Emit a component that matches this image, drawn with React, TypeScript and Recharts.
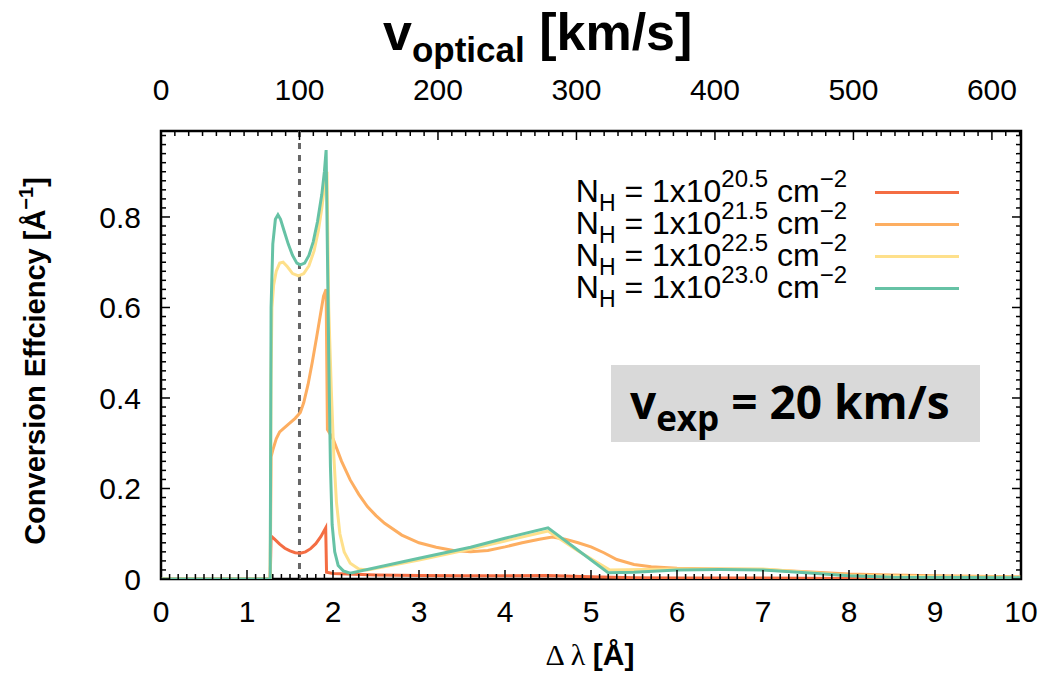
import React from 'react';
import { LineChart, Line, XAxis, YAxis, ReferenceLine, ReferenceArea, Legend } from 'recharts';

// Δλ [Å] vs conversion efficiency
const nh205: [number, number][] = [
  [0, 0], [1.27, 0], [1.28, 0.095], [1.32, 0.088], [1.38, 0.077], [1.44, 0.068], [1.5, 0.062],
  [1.56, 0.058], [1.62, 0.057], [1.68, 0.06], [1.74, 0.067], [1.8, 0.078], [1.86, 0.094],
  [1.915, 0.113], [1.925, 0.015], [2.0, 0.012], [2.5, 0.009], [3.0, 0.008], [3.5, 0.007],
  [4.0, 0.007], [4.5, 0.008], [5.0, 0.005], [5.5, 0.003], [6.0, 0.002], [7.0, 0.002], [8.0, 0.001], [10, 0.001],
];
const nh215: [number, number][] = [
  [0, 0], [1.27, 0], [1.28, 0.27], [1.3, 0.285], [1.34, 0.31], [1.38, 0.325], [1.44, 0.335],
  [1.5, 0.345], [1.56, 0.355], [1.62, 0.368], [1.66, 0.39], [1.71, 0.43], [1.76, 0.48],
  [1.81, 0.535], [1.85, 0.58], [1.89, 0.625], [1.92, 0.64], [1.935, 0.33], [2.0, 0.31],
  [2.1, 0.26], [2.2, 0.219], [2.3, 0.187], [2.4, 0.16], [2.5, 0.14], [2.6, 0.123], [2.8, 0.097],
  [3.0, 0.08], [3.2, 0.07], [3.4, 0.063], [3.6, 0.06], [3.8, 0.063], [4.0, 0.071], [4.2, 0.08],
  [4.4, 0.088], [4.55, 0.093], [4.7, 0.088], [4.85, 0.08], [5.0, 0.071], [5.15, 0.058],
  [5.3, 0.043], [5.5, 0.032], [5.7, 0.027], [6.0, 0.024], [6.5, 0.022], [7.0, 0.021],
  [7.5, 0.016], [8.0, 0.011], [8.5, 0.009], [9.0, 0.007], [10, 0.005],
];
const nh225: [number, number][] = [
  [0, 0], [1.27, 0], [1.28, 0.45], [1.29, 0.6], [1.31, 0.65], [1.34, 0.68], [1.38, 0.698],
  [1.42, 0.7], [1.47, 0.69], [1.53, 0.675], [1.6, 0.67], [1.66, 0.675], [1.72, 0.692],
  [1.78, 0.725], [1.83, 0.77], [1.87, 0.82], [1.91, 0.88], [1.93, 0.9], [1.95, 0.6],
  [1.98, 0.42], [2.01, 0.27], [2.04, 0.17], [2.08, 0.1], [2.13, 0.06], [2.2, 0.035],
  [2.3, 0.022], [2.4, 0.02], [3.0, 0.042], [3.6, 0.066], [4.0, 0.084], [4.5, 0.106],
  [4.85, 0.062], [5.22, 0.02], [6.0, 0.022], [7.0, 0.022], [7.5, 0.015], [8.0, 0.008],
  [9.0, 0.005], [10, 0.004],
];
const nh230: [number, number][] = [
  [0, 0], [1.27, 0], [1.28, 0.6], [1.3, 0.74], [1.33, 0.795], [1.36, 0.805], [1.39, 0.795],
  [1.43, 0.77], [1.48, 0.74], [1.53, 0.715], [1.58, 0.698], [1.62, 0.694], [1.67, 0.698],
  [1.72, 0.715], [1.77, 0.745], [1.82, 0.79], [1.87, 0.85], [1.9, 0.9], [1.92, 0.948],
  [1.93, 0.8], [1.95, 0.5], [1.97, 0.25], [1.99, 0.12], [2.02, 0.06], [2.06, 0.03],
  [2.12, 0.018], [2.2, 0.013], [3.0, 0.046], [3.6, 0.07], [4.0, 0.09], [4.5, 0.113],
  [5.2, 0.014], [5.5, 0.015], [6.0, 0.02], [6.5, 0.021], [7.0, 0.02], [7.5, 0.014],
  [8.0, 0.007], [8.5, 0.004], [10, 0.003],
];

const exponents = ['20.5', '21.5', '22.5', '23.0'];
const colors = ['#f46d43', '#fdae61', '#fee08b', '#66c2a5'];
const seriesData = [nh205, nh215, nh225, nh230];

const xLabels = [0, 1, 2, 3, 4, 5, 6, 7, 8, 9, 10];
const x2Labels = [0, 100, 200, 300, 400, 500, 600];
const yLabels = [0, 0.2, 0.4, 0.6, 0.8];
const vMarker = 100; // km/s

const FONT = "'Liberation Sans', Arial, Helvetica, sans-serif";

const xTicks = Array.from({ length: 101 }, (_, i) => i / 10);
const x2Ticks = Array.from({ length: 63 }, (_, i) => i * 10);
const yTicks = Array.from({ length: 50 }, (_, i) => Math.round(i * 2) / 100);

const isIn = (arr: number[], v: number) => arr.some(m => Math.abs(m - v) < 1e-6);

const BottomTick = ({ x, y, payload }: any) => {
  const major = isIn(xLabels, payload.value);
  return (
    <g>
      <line x1={x} x2={x} y1={y} y2={y - (major ? 9 : 5)} stroke="#000" strokeWidth={1.5} />
      {major && <text x={x} y={y + 43} textAnchor="middle" fontSize={30} fontFamily={FONT} fill="#000">{payload.value}</text>}
    </g>
  );
};

const TopTick = ({ x, y, payload }: any) => {
  const major = isIn(x2Labels, payload.value);
  return (
    <g>
      <line x1={x} x2={x} y1={y} y2={y + (major ? 9 : 5)} stroke="#000" strokeWidth={1.5} />
      {major && <text x={x} y={y - 31} textAnchor="middle" fontSize={30} fontFamily={FONT} fill="#000">{payload.value}</text>}
    </g>
  );
};

const LeftTick = ({ x, y, payload }: any) => {
  const major = isIn(yLabels, payload.value);
  return (
    <g>
      <line x1={x} x2={x + (major ? 9 : 5)} y1={y} y2={y} stroke="#000" strokeWidth={1.5} />
      {major && <text x={x - 20} y={y} dy="0.36em" textAnchor="end" fontSize={30} fontFamily={FONT} fill="#000">{payload.value}</text>}
    </g>
  );
};

const RightTick = ({ x, y, payload }: any) => {
  const major = isIn(yLabels, payload.value);
  return <line x1={x} x2={x - (major ? 9 : 5)} y1={y} y2={y} stroke="#000" strokeWidth={1.5} />;
};

const TitleLabel = () => (
  <text x={383} y={50} fontFamily={FONT} fontWeight="bold" fontSize={52} fill="#000">
    v<tspan fontSize={35} dy={12}>optical</tspan><tspan dy={-12}> [km/s]</tspan>
  </text>
);

const XLabel = () => (
  <text x={590} y={665} textAnchor="middle" fontSize={30} fill="#000">
    <tspan fontFamily="'Liberation Serif', 'DejaVu Serif', serif">Δ λ </tspan>
    <tspan fontFamily={FONT} fontWeight="bold">[Å]</tspan>
  </text>
);

const YLabel = () => (
  <text x={45} y={361} transform="rotate(-90 45 361)" textAnchor="middle" fontFamily={FONT} fontWeight="bold" fontSize={29} fill="#000">
    Conversion Effciency [Å<tspan fontSize={20} dy={-12}>−1</tspan><tspan dy={12}>]</tspan>
  </text>
);

const sup: React.CSSProperties = { fontSize: 24, position: 'relative', top: -15, verticalAlign: 'baseline' };
const sub: React.CSSProperties = { fontSize: 23, position: 'relative', top: 9, verticalAlign: 'baseline' };

const renderLegend = (props: any) => {
  const items = (props.payload || []).filter((p: any) => exponents.includes(p.value));
  return (
    <div style={{ fontFamily: FONT, fontSize: 32, color: '#000' }}>
      {items.map((p: any) => (
        <div key={p.value} style={{ display: 'flex', alignItems: 'center', height: 32, lineHeight: '32px' }}>
          <div style={{ width: 287, textAlign: 'right', whiteSpace: 'nowrap' }}>
            N<span style={sub}>H</span> = 1x10<span style={sup}>{p.value}</span> cm<span style={sup}>−2</span>
          </div>
          <div style={{ width: 84, height: 3, marginLeft: 28, background: p.color }} />
        </div>
      ))}
    </div>
  );
};

export default function App() {
  return (
    <div style={{ position: 'relative', width: 1043, height: 677, background: '#fff' }}>
      <style>{'body{margin:0}'}</style>
      <LineChart width={1043} height={677} margin={{ top: 0, right: 21, bottom: 0, left: 0 }}>
        <XAxis xAxisId="bottom" dataKey="x" type="number" domain={[0, 10]} ticks={xTicks} interval={0}
          allowDataOverflow tick={BottomTick} tickLine={false} tickSize={0} tickMargin={0} axisLine={false} height={98}
          label={{ content: XLabel }} />
        <XAxis xAxisId="top" orientation="top" dataKey="v" type="number" domain={[0, 621]} ticks={x2Ticks} interval={0}
          allowDataOverflow tick={TopTick} tickLine={false} tickSize={0} tickMargin={0} axisLine={false} height={131}
          label={{ content: TitleLabel }} />
        <YAxis yAxisId="left" type="number" domain={[0, 0.99]} ticks={yTicks} interval={0} allowDataOverflow
          tick={LeftTick} tickLine={false} tickSize={0} tickMargin={0} axisLine={false} width={161}
          label={{ content: YLabel }} />
        <YAxis yAxisId="right" orientation="right" type="number" domain={[0, 0.99]} ticks={yTicks} interval={0}
          allowDataOverflow tick={RightTick} tickLine={false} tickSize={0} tickMargin={0} axisLine={false} width={1} />
        <ReferenceArea xAxisId="bottom" yAxisId="right" x1={0} x2={10} y1={0} y2={0.99} fill="none" fillOpacity={0}
          stroke="#000" strokeWidth={2.5} ifOverflow="visible" />
        <ReferenceLine xAxisId="top" yAxisId="left" x={vMarker} stroke="#666" strokeWidth={3} strokeDasharray="6 6" />
        {seriesData.map((arr, i) => (
          <Line key={exponents[i]} xAxisId="bottom" yAxisId="left" data={arr.map(([x, y]) => ({ x, y }))}
            dataKey="y" name={exponents[i]} type="linear" stroke={colors[i]} strokeWidth={3} dot={false}
            activeDot={false} isAnimationActive={false} />
        ))}
        <Legend content={renderLegend} layout="vertical" align="center" verticalAlign="middle"
          wrapperStyle={{ left: 560, top: 176, width: 420 }} />
      </LineChart>
      <div style={{ position: 'absolute', left: 611, top: 365, width: 369, height: 77, background: '#d9d9d9' }}>
        <div style={{ position: 'absolute', left: 19, top: -2, fontFamily: "'Open Sans', 'Noto Sans', sans-serif", fontWeight: 700, fontSize: 46, lineHeight: '77px', whiteSpace: 'nowrap', color: '#000' }}>
          v<span style={{ fontSize: 35, position: 'relative', top: 12 }}>exp</span> = 20 km/s
        </div>
      </div>
    </div>
  );
}
